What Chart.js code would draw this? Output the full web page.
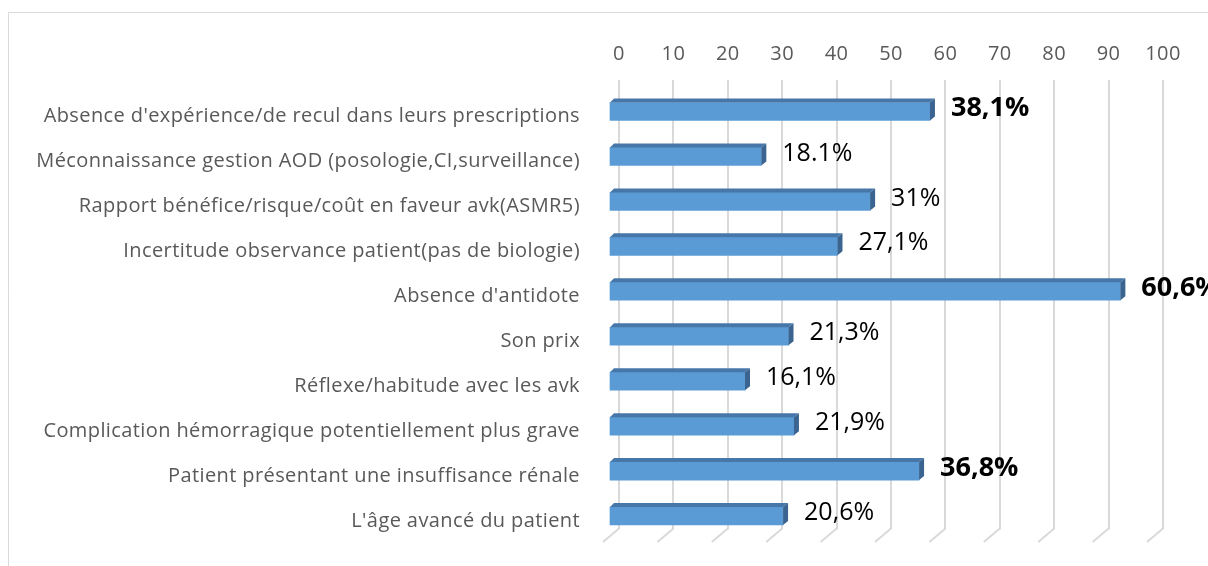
<!DOCTYPE html>
<html><head><meta charset="utf-8">
<script src="https://cdn.jsdelivr.net/npm/chart.js@4/dist/chart.umd.min.js"></script>
<style>html,body{margin:0;padding:0;background:#fff;overflow:hidden;} #wrap{position:relative;width:1208px;height:566px;}</style>
</head><body><div id="wrap"><canvas id="c" width="1208" height="566"></canvas></div>
<script>
const categories = [
  "Absence d'expérience/de recul dans leurs prescriptions",
  "Méconnaissance gestion AOD (posologie,CI,surveillance)",
  "Rapport bénéfice/risque/coût en faveur avk(ASMR5)",
  "Incertitude observance patient(pas de biologie)",
  "Absence d'antidote",
  "Son prix",
  "Réflexe/habitude avec les avk",
  "Complication hémorragique potentiellement plus grave",
  "Patient présentant une insuffisance rénale",
  "L'âge avancé du patient"
];
const counts = [59, 28, 48, 42, 94, 33, 25, 34, 57, 32];
const percentLabels = ["38,1%", "18.1%", "31%", "27,1%", "60,6%", "21,3%", "16,1%", "21,9%", "36,8%", "20,6%"];
const boldLabels = [true, false, false, false, true, false, false, false, true, false];
const xTickValues = [0, 10, 20, 30, 40, 50, 60, 70, 80, 90, 100];

const FONT = '"Open Sans", "Liberation Sans", sans-serif';
const DX = -10, DY = 9;          // front face offset from back wall
const DEPTH_X = 5, DEPTH_Y = -4; // visible bar depth
const FRONT = '#5b9bd5', TOP = '#4677a8', SIDE = '#3b6590', GRID = '#d9d9d9';

const frame = {
  id: 'frame',
  beforeDraw(chart) {
    const ctx = chart.ctx;
    ctx.save();
    ctx.strokeStyle = GRID; ctx.lineWidth = 1;
    ctx.beginPath();
    ctx.moveTo(8.5, 566); ctx.lineTo(8.5, 12.5); ctx.lineTo(1208, 12.5);
    ctx.stroke();
    ctx.restore();
    ctx.letterSpacing = '0.4px';
  }
};

const bar3d = {
  id: 'bar3d',
  beforeDatasetsDraw(chart) {
    const ctx = chart.ctx, xs = chart.scales.x, bottom = chart.chartArea.bottom;
    ctx.save();
    ctx.strokeStyle = GRID; ctx.lineWidth = 2;
    xTickValues.forEach(v => {
      const px = xs.getPixelForValue(v);
      ctx.beginPath(); ctx.moveTo(px, bottom - 1); ctx.lineTo(px - 16, bottom + 12.5); ctx.stroke();
    });
    ctx.restore();
    ctx.save();
    ctx.translate(DX, DY);
  },
  afterDatasetsDraw(chart) {
    const ctx = chart.ctx;
    const meta = chart.getDatasetMeta(0);
    meta.data.forEach(el => {
      const p = el.getProps(['x', 'y', 'base', 'height'], true);
      const top = p.y - p.height / 2, bot = p.y + p.height / 2;
      ctx.fillStyle = TOP;
      ctx.beginPath();
      ctx.moveTo(p.base, top); ctx.lineTo(p.base + DEPTH_X - 1, top + DEPTH_Y);
      ctx.lineTo(p.x + DEPTH_X, top + DEPTH_Y); ctx.lineTo(p.x, top); ctx.closePath(); ctx.fill();
      ctx.fillStyle = SIDE;
      ctx.beginPath();
      ctx.moveTo(p.x, top); ctx.lineTo(p.x + DEPTH_X, top + DEPTH_Y);
      ctx.lineTo(p.x + DEPTH_X, bot + DEPTH_Y); ctx.lineTo(p.x, bot); ctx.closePath(); ctx.fill();
    });
    ctx.restore();
    ctx.save();
    ctx.letterSpacing = '0px';
    ctx.textAlign = 'left'; ctx.textBaseline = 'middle'; ctx.fillStyle = '#000';
    meta.data.forEach((el, i) => {
      const p = el.getProps(['x', 'y'], true);
      ctx.font = (boldLabels[i] ? '700 27px ' : '25px ') + FONT;
      ctx.fillText(percentLabels[i], p.x + DX + DEPTH_X + 16, p.y + DY - 3);
    });
    ctx.restore();
  }
};

new Chart(document.getElementById('c'), {
  type: 'bar',
  data: {
    labels: categories,
    datasets: [{
      data: counts,
      backgroundColor: FRONT,
      borderWidth: 0,
      barThickness: 18
    }]
  },
  options: {
    indexAxis: 'y',
    responsive: false,
    animation: false,
    devicePixelRatio: 1,
    layout: { padding: { left: 0, right: 45, top: 0, bottom: 36.5 } },
    plugins: { legend: { display: false }, tooltip: { enabled: false } },
    scales: {
      x: {
        position: 'top',
        min: 0, max: 100,
        afterBuildTicks(axis) { axis.ticks = xTickValues.map(v => ({ value: v })); },
        afterFit(axis) { axis.height = 80; axis.paddingLeft = 0; axis.paddingRight = 0; },
        ticks: { color: '#595959', font: { family: FONT, size: 20 }, padding: 14, maxRotation: 0 },
        grid: { color: GRID, lineWidth: 2, drawTicks: false },
        border: { display: false }
      },
      y: {
        afterFit(axis) { axis.width = 619; axis.paddingTop = 0; axis.paddingBottom = 0; },
        ticks: { color: '#595959', font: { family: FONT, size: 20 }, padding: 39, labelOffset: 14, autoSkip: false },
        grid: { display: false, drawTicks: false },
        border: { display: false }
      }
    }
  },
  plugins: [frame, bar3d]
});
</script>
</body></html>
